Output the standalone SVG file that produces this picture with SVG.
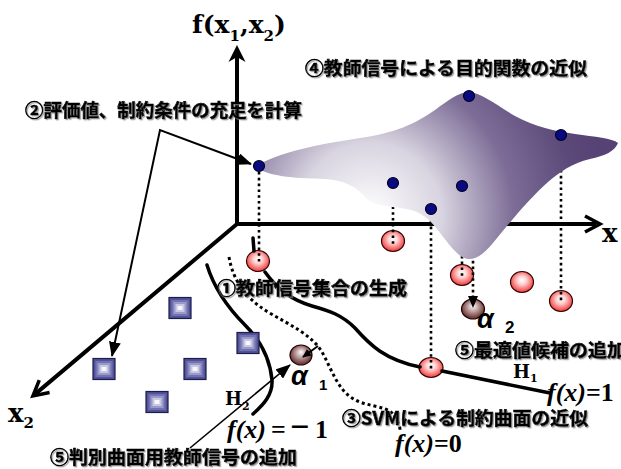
<svg xmlns="http://www.w3.org/2000/svg" xmlns:xlink="http://www.w3.org/1999/xlink" width="621" height="469" viewBox="0 0 621 469">
<defs>
<style>
.ax{fill:none;stroke:#000;stroke-width:4}
.thin{fill:none;stroke:#000;stroke-width:2}
.curve{fill:none;stroke:#000;stroke-width:3.5;stroke-linecap:round}
.dcurve{fill:none;stroke:#000;stroke-width:3;stroke-dasharray:3 3}
.vd{fill:none;stroke:#000;stroke-width:2.6;stroke-dasharray:2.6 3.2}
.rb{fill:url(#gRed);stroke:#300;stroke-width:1.2}
.ab{fill:url(#gAlpha);stroke:#200;stroke-width:1.2}
.bd{fill:#0a0a80;stroke:#000020;stroke-width:1.2}
.jp{font-family:"Noto Sans CJK JP","Noto Sans",sans-serif;font-weight:700;font-size:18px;fill:#000;stroke:#000;stroke-width:0.6;filter:url(#sh)}
.sr{font-family:"DejaVu Serif","Liberation Serif",serif;font-weight:700;fill:#000}
.fx{font-family:"Liberation Serif",serif;font-weight:700;font-size:26px;fill:#000}
.al{font-family:"Liberation Sans",sans-serif;font-weight:700;font-style:italic;font-size:27px;fill:#000}
.sub{font-family:"Liberation Sans",sans-serif;font-weight:700;fill:#000}
</style>
<filter id="sh" x="-5%" y="-20%" width="110%" height="150%">
<feDropShadow dx="1.2" dy="1.2" stdDeviation="0.6" flood-color="#888" flood-opacity="0.8"/>
</filter>
<radialGradient id="gRed" cx="0.5" cy="0.45" r="0.55" fx="0.5" fy="0.4">
<stop offset="0" stop-color="#ffffff"/>
<stop offset="0.35" stop-color="#ffd4d4"/>
<stop offset="1" stop-color="#f03838"/>
</radialGradient>
<radialGradient id="gAlpha" cx="0.5" cy="0.45" r="0.55" fx="0.5" fy="0.35">
<stop offset="0" stop-color="#ffffff"/>
<stop offset="0.4" stop-color="#c4a4a4"/>
<stop offset="1" stop-color="#5a2828"/>
</radialGradient>
<radialGradient id="gSurf" gradientUnits="userSpaceOnUse" cx="370" cy="215" r="240">
<stop offset="0" stop-color="#ffffff"/>
<stop offset="0.3" stop-color="#d8d4e0"/>
<stop offset="0.6" stop-color="#7c6c96"/>
<stop offset="0.85" stop-color="#5c4a7a"/>
<stop offset="1" stop-color="#564274"/>
</radialGradient>
<g id="boxshape">
<rect x="-11" y="-10.5" width="22" height="21" fill="#52529a" stroke="#1c1c48" stroke-width="1.2"/>
<rect x="-8.5" y="-8" width="17" height="16" fill="#7272b0"/>
<rect x="-6.5" y="-6" width="13" height="12" fill="#9a9aca"/>
<rect x="-4.5" y="-4" width="9" height="8" fill="#c8c8e4"/>
<rect x="-2.5" y="-2" width="5" height="4" fill="#f6f6fc"/>
</g>
<marker id="av" viewBox="-20 -11 26 22" refX="-4" refY="0" markerWidth="26" markerHeight="22" orient="auto" markerUnits="userSpaceOnUse">
<path d="M-15,-8 L0,0 L-15,8" fill="none" stroke="#000" stroke-width="3.5"/>
</marker>
<marker id="ast" viewBox="-18 -10 20 20" refX="-7" refY="0" markerWidth="20" markerHeight="20" orient="auto" markerUnits="userSpaceOnUse">
<path d="M-17,-8.5 L0,0 L-17,8.5 L-12,0 Z" fill="#000"/>
</marker>
<marker id="ah" viewBox="0 0 15 12" refX="14" refY="6" markerWidth="15" markerHeight="12" orient="auto-start-reverse" markerUnits="userSpaceOnUse">
<path d="M0,0 L15,6 L0,12 Z" fill="#000"/>
</marker>
<marker id="ahm" viewBox="0 0 12 10" refX="11" refY="5" markerWidth="12" markerHeight="10" orient="auto" markerUnits="userSpaceOnUse">
<path d="M0,0 L12,5 L0,10 Z" fill="#000"/>
</marker>
<marker id="ahs" viewBox="0 0 9 8" refX="8" refY="4" markerWidth="9" markerHeight="8" orient="auto" markerUnits="userSpaceOnUse">
<path d="M0,0 L9,4 L0,8 Z" fill="#000"/>
</marker>
</defs>

<g id="axes">
<path class="ax" d="M237,224 L237,52" marker-end="url(#ast)"/>
<path class="ax" d="M235,224 L596,224" marker-end="url(#av)"/>
<path class="ax" d="M237,224 L36,393.4" marker-end="url(#av)"/>
</g>

<g id="ball-r1"><ellipse class="rb" cx="258" cy="261" rx="11.5" ry="10.5"/></g>
<g id="ball-r2"><ellipse class="rb" cx="393" cy="241" rx="11.5" ry="10.5"/></g>
<g id="ball-r3"><ellipse class="rb" cx="462" cy="275" rx="11.5" ry="10.5"/></g>
<g id="ball-r4"><ellipse class="rb" cx="522" cy="282" rx="11.5" ry="10.5"/></g>
<g id="ball-r5"><ellipse class="rb" cx="561" cy="301" rx="11.5" ry="10.5"/></g>
<g id="ball-r6"><ellipse class="rb" cx="431" cy="367.5" rx="12" ry="10"/></g>
<g id="alpha1-ball"><ellipse class="ab" cx="301" cy="355" rx="11" ry="10"/></g>
<g id="alpha2-ball"><ellipse class="ab" cx="473" cy="309" rx="11.5" ry="10"/></g>

<g id="connectors">
<path class="vd" d="M259,172 L259,264"/>
<path class="vd" d="M393,189 L393,244"/>
<path class="vd" d="M431,215 L431,370"/>
<path class="vd" d="M462,192 L462,278"/>
<path class="vd" d="M561,141 L561,303"/>
<path class="vd" d="M473,110 L473,307" marker-end="url(#ahm)"/>
<path class="curve" d="M253,238 L254,251 M265,272 C278,290 292,300 312,306 C330,311 342,315 355,328 C370,345 385,360 420,367 M442,371 L550,393"/>
<path class="curve" d="M207,265 C214,288 228,308 245,325 C262,342 270,360 272,380 C273,395 263,405 253,414"/>
<path class="dcurve" d="M229,257 C233,280 245,298 268,312 C290,325 312,335 322,352 C332,370 337,388 352,398 C365,407 385,405 393,414 C398,420 400,426 400,430"/>
<path class="thin" d="M251,164 L160,130 L112,356" marker-start="url(#ah)" marker-end="url(#ah)"/>
<path class="thin" style="stroke-width:1.6" d="M190,448 L290,365" marker-end="url(#ah)"/>
<path class="thin" d="M318,346 L303,357" marker-end="url(#ahs)"/>
</g>

<g id="surface">
<path fill="url(#gSurf)" d="M255,167 C275,153 320,144 360,138 C395,133 415,124 435,110 C450,99 458,93 468,92 C480,92 495,104 515,116 C535,127 555,131 575,134 C595,137 612,138 618,143 C615,151 605,156 590,159 C572,163 560,172 548,182 C530,198 510,222 493,243 C483,255 475,260 468,259 C458,258 448,243 437,229 C427,216 418,210 400,208 C385,206 372,205 366,198 C358,188 345,180 325,179 C300,178 272,178 255,167 Z"/>
</g>

<g id="dot1"><circle class="bd" cx="259" cy="166" r="5.5"/></g>
<g id="dot2"><circle class="bd" cx="469" cy="96" r="5.5"/></g>
<g id="dot3"><circle class="bd" cx="561" cy="135" r="5.5"/></g>
<g id="dot4"><circle class="bd" cx="393" cy="183" r="5.5"/></g>
<g id="dot5"><circle class="bd" cx="462" cy="186" r="5.5"/></g>
<g id="dot6"><circle class="bd" cx="431" cy="209" r="5.5"/></g>

<g id="box1"><use xlink:href="#boxshape" x="180" y="308"/></g>
<g id="box2"><use xlink:href="#boxshape" x="104" y="369"/></g>
<g id="box3"><use xlink:href="#boxshape" x="195" y="369"/></g>
<g id="box4"><use xlink:href="#boxshape" x="248" y="343"/></g>
<g id="box5"><use xlink:href="#boxshape" x="157" y="402"/></g>

<g id="labels">
<text class="sr" x="192" y="33" font-size="25">f(x<tspan font-size="15" dy="8">1</tspan><tspan dy="-8">,x</tspan><tspan font-size="15" dy="8">2</tspan><tspan dy="-8">)</tspan></text>
<text class="sr" x="602" y="242" font-size="26">x</text>
<text class="sr" x="8" y="422" font-size="26">x<tspan font-size="15" dy="6">2</tspan></text>
<text class="sr" x="513" y="378" font-size="18">H<tspan font-size="11" dy="4">1</tspan></text>
<text class="sr" x="225" y="405" font-size="18">H<tspan font-size="11" dy="5">2</tspan></text>
<text class="jp" x="305" y="75" textLength="282" lengthAdjust="spacingAndGlyphs">④教師信号による目的関数の近似</text>
<text class="jp" x="25" y="117" textLength="277" lengthAdjust="spacingAndGlyphs">②評価値、制約条件の充足を計算</text>
<text class="jp" x="217" y="295" textLength="190" lengthAdjust="spacingAndGlyphs">①教師信号集合の生成</text>
<text class="jp" x="455" y="357" textLength="171" lengthAdjust="spacingAndGlyphs">⑤最適値候補の追加</text>
<text class="jp" x="342" y="425" textLength="246" lengthAdjust="spacingAndGlyphs">③SVMによる制約曲面の近似</text>
<text class="jp" x="50" y="464" textLength="247" lengthAdjust="spacingAndGlyphs">⑤判別曲面用教師信号の追加</text>
<text class="fx" x="547" y="401"><tspan font-style="italic">f(x)</tspan>=1</text>
<text class="fx" x="395" y="452"><tspan font-style="italic">f(x)</tspan>=0</text>
<text class="fx" x="227" y="438"><tspan font-style="italic">f(x)</tspan><tspan x="271">=</tspan><tspan x="290" font-size="34">−</tspan><tspan x="315">1</tspan></text>
<text class="al" x="291" y="385">α</text>
<text class="sub" x="319" y="390" font-size="15">1</text>
<text class="al" x="477" y="328">α</text>
<text class="sub" x="505" y="333" font-size="17">2</text>
</g>
</svg>
